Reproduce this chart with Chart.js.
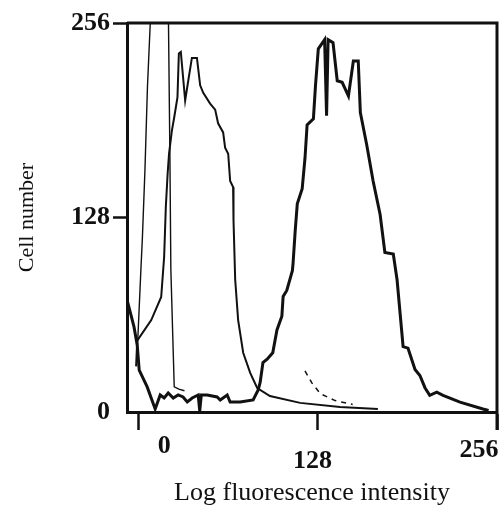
<!DOCTYPE html>
<html>
<head>
<meta charset="utf-8">
<script src="https://cdn.jsdelivr.net/npm/chart.js@4"></script>
<style>
  html, body { margin: 0; padding: 0; background: #fff; }
  canvas { display: block; }
</style>
</head>
<body>
<canvas id="histChart" width="504" height="506"></canvas>
<script>
const xTicks = [0, 128, 256];
const yTicks = [0, 128, 256];

// bright population (thick line), debris at the left, then the big peak
const stainedX = [-8, -3, -0.7, 0.7, 6.4, 12.1, 15.7, 18.5, 21.4, 25, 28.5, 32, 35, 38.5, 42.8, 43.9, 45, 49.2, 56.3, 58.5, 63.5, 65.6, 72.7, 82, 85.6, 87, 89, 92, 96, 99, 102.5, 103.4, 106, 110, 110.5, 112, 113.5, 117, 119, 120.5, 125, 126.5, 128.5, 133, 134.4, 135.5, 139, 142, 145.5, 150, 153.5, 157, 158.5, 163, 167.6, 172.6, 176, 182, 184.7, 189, 192.5, 197.5, 201, 204.6, 208, 213, 217.5, 229.6, 246, 250];
const stainedY = [74, 56, 44, 27.6, 16.5, 2, 11.2, 9.2, 12.5, 9.2, 11.2, 9.9, 6.6, 9.2, 11.2, 0.7, 11.2, 11.2, 9.9, 7.9, 11.2, 6.6, 6.6, 7.9, 14.5, 19.5, 32.5, 34.7, 39, 54, 63, 76, 80, 93, 98, 119, 137, 147, 167, 189, 193, 215, 239, 245, 195, 245, 243, 218, 217, 208, 231, 231, 197, 176, 152, 130, 105, 104, 87, 43, 42, 28, 24, 16, 11, 13, 11, 6.5, 2, 1];

// dim population (medium line)
const dimX = [-1.5, -0.7, 9.3, 16.4, 18.5, 19.7, 21, 22, 24, 25.7, 28, 29, 30.4, 33.5, 35.7, 38.3, 41.9, 44.2, 46.4, 51.3, 54.9, 57, 60.6, 62, 64.2, 65.6, 67.7, 68, 69.2, 71.3, 74.9, 79.9, 84.9, 94, 115.5, 144, 171];
const dimY = [30, 47, 60.5, 75.7, 102, 135, 157, 170, 185, 194, 207, 236, 237, 205, 218, 233, 233, 215, 210, 203, 199, 190, 184, 174, 170, 152, 148, 126, 87, 60.5, 39, 25.7, 15.8, 10.5, 6, 3.3, 2];

// control, runs off the top of the scale
const controlX = [-1, 0, 1.9, 3, 4.8, 6.6, 8.6, 11, 15, 20, 21.6, 22.6, 23.3, 25.7, 29, 33];
const controlY = [35, 54, 93.5, 115, 159, 214, 256, 300, 320, 300, 256, 170, 93.5, 16.5, 15, 14];

// faint dashed trace
const dashedX = [119, 124, 130, 140.5, 153];
const dashedY = [27, 19, 12, 7.5, 5];

const ink = '#111';
const serif = '"Liberation Serif", "Times New Roman", serif';

function pts(xs, ys) {
    return xs.map((x, i) => ({ x: x, y: ys[i] }));
}

// top/right frame, plus the x tick labels which sit off-centre in the original
const frameAndLabels = {
    id: 'frameAndLabels',
    afterDraw(chart) {
        const { ctx, chartArea: a, scales: { x } } = chart;
        ctx.save();
        ctx.strokeStyle = ink;
        ctx.lineWidth = 3;
        ctx.beginPath();
        ctx.moveTo(a.left, a.top);
        ctx.lineTo(a.right, a.top);
        ctx.lineTo(a.right, a.bottom + 18);
        ctx.stroke();

        ctx.fillStyle = ink;
        ctx.font = 'bold 26px ' + serif;
        ctx.textAlign = 'center';
        ctx.textBaseline = 'middle';
        const nudge = [[26, 34], [-5, 49], [-18, 38]];
        xTicks.forEach((v, i) => {
            ctx.fillText(String(v), x.getPixelForValue(v) + nudge[i][0], a.bottom + nudge[i][1]);
        });
        ctx.restore();
    }
};

const line = (data, width, extra) => Object.assign({
    data: data,
    borderColor: ink,
    borderWidth: width,
    pointRadius: 0,
    tension: 0,
    fill: false
}, extra || {});

new Chart(document.getElementById('histChart').getContext('2d'), {
    type: 'line',
    data: {
        datasets: [
            line(pts(stainedX, stainedY), 3),
            line(pts(dimX, dimY), 2),
            line(pts(controlX, controlY), 1.4),
            line(pts(dashedX, dashedY), 1.5, { borderDash: [5, 5] })
        ]
    },
    options: {
        responsive: false,
        animation: false,
        devicePixelRatio: 1,
        layout: { padding: { top: 23, right: 7, bottom: 0, left: 10 } },
        plugins: { legend: { display: false }, tooltip: { enabled: false } },
        scales: {
            x: {
                type: 'linear', min: -8, max: 256,
                afterBuildTicks: s => { s.ticks = xTicks.map(v => ({ value: v })); },
                afterFit: s => { s.height = 94; },
                ticks: { display: false },
                grid: { drawOnChartArea: false, tickLength: 18, tickWidth: 2.5, tickColor: ink },
                border: { color: ink, width: 3 },
                title: {
                    display: true, text: 'Log fluorescence intensity', color: ink,
                    font: { family: serif, size: 26, lineHeight: 1 }, padding: 0
                }
            },
            y: {
                type: 'linear', min: 0, max: 256,
                afterBuildTicks: s => { s.ticks = yTicks.map(v => ({ value: v })); },
                afterFit: s => { s.width = 117; },
                ticks: { color: ink, font: { family: serif, size: 26, weight: 'bold' }, padding: 3 },
                grid: {
                    drawOnChartArea: false, tickLength: 14, tickWidth: 2.5,
                    tickColor: c => (c.tick && c.tick.value === 0) ? 'transparent' : ink
                },
                border: { color: ink, width: 3 },
                title: {
                    display: true, text: 'Cell number', color: ink,
                    font: { family: serif, size: 22 }, padding: { top: 4, bottom: 0 }
                }
            }
        }
    },
    plugins: [frameAndLabels]
});
</script>
</body>
</html>
